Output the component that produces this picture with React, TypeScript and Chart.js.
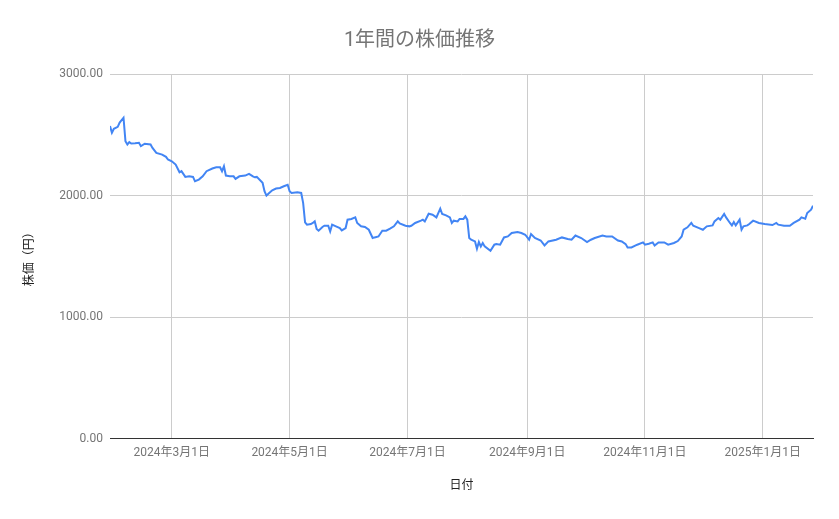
import React, { useEffect, useRef } from "react";
import { Chart, registerables } from "chart.js";

Chart.register(...registerables);

const chartTitle = "1年間の株価推移";
const xAxisTitle = "日付";
const yAxisTitle = "株価（円）";

const dates: string[] = [
  "2024-01-29", "2024-01-30", "2024-01-31", "2024-02-02", "2024-02-03", "2024-02-05", "2024-02-06", "2024-02-07",
  "2024-02-08", "2024-02-09", "2024-02-11", "2024-02-13", "2024-02-14", "2024-02-16", "2024-02-19", "2024-02-20",
  "2024-02-22", "2024-02-25", "2024-02-27", "2024-02-28", "2024-03-01", "2024-03-03", "2024-03-05", "2024-03-06",
  "2024-03-08", "2024-03-10", "2024-03-12", "2024-03-13", "2024-03-15", "2024-03-17", "2024-03-19", "2024-03-22",
  "2024-03-24", "2024-03-26", "2024-03-27", "2024-03-28", "2024-03-29", "2024-03-31", "2024-04-02", "2024-04-03",
  "2024-04-05", "2024-04-08", "2024-04-10", "2024-04-12", "2024-04-13", "2024-04-14", "2024-04-17", "2024-04-18",
  "2024-04-19", "2024-04-20", "2024-04-22", "2024-04-24", "2024-04-26", "2024-04-28", "2024-04-30", "2024-05-01",
  "2024-05-02", "2024-05-05", "2024-05-07", "2024-05-08", "2024-05-09", "2024-05-10", "2024-05-12", "2024-05-13",
  "2024-05-14", "2024-05-15", "2024-05-16", "2024-05-18", "2024-05-19", "2024-05-21", "2024-05-22", "2024-05-23",
  "2024-05-25", "2024-05-27", "2024-05-28", "2024-05-30", "2024-05-31", "2024-06-02", "2024-06-04", "2024-06-05",
  "2024-06-07", "2024-06-09", "2024-06-11", "2024-06-13", "2024-06-14", "2024-06-16", "2024-06-18", "2024-06-20",
  "2024-06-22", "2024-06-24", "2024-06-26", "2024-06-27", "2024-06-30", "2024-07-02", "2024-07-03", "2024-07-05",
  "2024-07-08", "2024-07-09", "2024-07-10", "2024-07-12", "2024-07-14", "2024-07-16", "2024-07-18", "2024-07-19",
  "2024-07-21", "2024-07-23", "2024-07-24", "2024-07-25", "2024-07-27", "2024-07-28", "2024-07-30", "2024-07-31",
  "2024-08-01", "2024-08-02", "2024-08-03", "2024-08-05", "2024-08-06", "2024-08-07", "2024-08-08", "2024-08-09",
  "2024-08-10", "2024-08-13", "2024-08-15", "2024-08-16", "2024-08-18", "2024-08-20", "2024-08-22", "2024-08-24",
  "2024-08-27", "2024-08-29", "2024-08-31", "2024-09-02", "2024-09-03", "2024-09-05", "2024-09-08", "2024-09-10",
  "2024-09-12", "2024-09-16", "2024-09-19", "2024-09-22", "2024-09-24", "2024-09-26", "2024-09-29", "2024-10-02",
  "2024-10-04", "2024-10-06", "2024-10-10", "2024-10-12", "2024-10-15", "2024-10-18", "2024-10-20", "2024-10-22",
  "2024-10-23", "2024-10-25", "2024-10-28", "2024-10-31", "2024-11-01", "2024-11-03", "2024-11-05", "2024-11-06",
  "2024-11-08", "2024-11-11", "2024-11-13", "2024-11-16", "2024-11-18", "2024-11-20", "2024-11-21", "2024-11-23",
  "2024-11-25", "2024-11-26", "2024-11-29", "2024-12-01", "2024-12-03", "2024-12-06", "2024-12-07", "2024-12-09",
  "2024-12-10", "2024-12-12", "2024-12-13", "2024-12-15", "2024-12-16", "2024-12-17", "2024-12-18", "2024-12-20",
  "2024-12-21", "2024-12-22", "2024-12-24", "2024-12-25", "2024-12-27", "2024-12-30", "2025-01-02", "2025-01-06",
  "2025-01-08", "2025-01-09", "2025-01-12", "2025-01-15", "2025-01-17", "2025-01-20", "2025-01-21", "2025-01-23",
  "2025-01-24", "2025-01-26", "2025-01-27",
];

const prices: number[] = [
  2571, 2516, 2549, 2565, 2600, 2640, 2447, 2420,
  2439, 2428, 2430, 2434, 2406, 2426, 2420, 2392,
  2351, 2337, 2318, 2296, 2282, 2255, 2191, 2200,
  2153, 2158, 2153, 2117, 2131, 2158, 2200, 2222,
  2232, 2232, 2200, 2241, 2164, 2158, 2158, 2137,
  2158, 2164, 2178, 2158, 2150, 2153, 2104, 2035,
  1999, 2015, 2043, 2057, 2062, 2076, 2088, 2035,
  2021, 2026, 2021, 1939, 1779, 1760, 1765, 1774,
  1787, 1724, 1710, 1741, 1751, 1751, 1704, 1760,
  1746, 1732, 1713, 1732, 1801, 1807, 1820, 1774,
  1746, 1741, 1718, 1650, 1655, 1663, 1710, 1710,
  1727, 1746, 1787, 1770, 1751, 1746, 1751, 1774,
  1793, 1801, 1787, 1850, 1842, 1820, 1892, 1848,
  1837, 1820, 1774, 1793, 1787, 1807, 1807, 1828,
  1801, 1650, 1636, 1622, 1562, 1617, 1581, 1609,
  1581, 1545, 1595, 1600, 1595, 1655, 1663, 1691,
  1700, 1691, 1677, 1636, 1683, 1650, 1630, 1589,
  1622, 1636, 1655, 1642, 1636, 1671, 1650, 1617,
  1636, 1650, 1671, 1663, 1663, 1630, 1622, 1600,
  1572, 1572, 1595, 1614, 1595, 1603, 1614, 1589,
  1614, 1614, 1595, 1609, 1625, 1663, 1718, 1738,
  1774, 1751, 1732, 1718, 1746, 1754, 1787, 1815,
  1801, 1848, 1820, 1774, 1754, 1782, 1754, 1801,
  1718, 1746, 1754, 1765, 1793, 1774, 1765, 1757,
  1774, 1760, 1751, 1751, 1774, 1801, 1820, 1809,
  1856, 1883, 1916,
];

const tickDates: string[] = ["2024-03-01", "2024-05-01", "2024-07-01", "2024-09-01", "2024-11-01", "2025-01-01"];
const tickLabels: string[] = ["2024年3月1日", "2024年5月1日", "2024年7月1日", "2024年9月1日", "2024年11月1日", "2025年1月1日"];
const yTicks: number[] = [0, 1000, 2000, 3000];

const toDay = (s: string) => {
  const [y, m, d] = s.split("-").map(Number);
  return Date.UTC(y, m - 1, d) / 86400000;
};

const FONT = "Roboto, 'Noto Sans CJK JP', sans-serif";

export default function App() {
  const ref = useRef<HTMLCanvasElement | null>(null);
  useEffect(() => {
    if (!ref.current) return;
    const points = dates.map((d, i) => ({ x: toDay(d), y: prices[i] }));
    const chart = new Chart(ref.current, {
      type: "line",
      data: {
        datasets: [
          {
            data: points,
            borderColor: "#4285F4",
            backgroundColor: "#4285F4",
            borderWidth: 2,
            pointRadius: 0,
            tension: 0,
            yAxisID: "y",
          },
        ],
      },
      options: {
        animation: false,
        responsive: false,
        layout: { padding: 0 },
        plugins: {
          legend: { display: false },
          tooltip: { enabled: false },
          title: {
            display: true,
            text: chartTitle,
            color: "#757575",
            font: { family: FONT, size: 20, weight: "normal" },
            padding: { top: 29, bottom: 21 },
          },
        },
        scales: {
          x: {
            type: "linear",
            min: toDay(dates[0]),
            max: toDay(dates[dates.length - 1]),
            afterBuildTicks: (scale: any) => {
              scale.ticks = tickDates.map((d) => ({ value: toDay(d) }));
            },
            afterFit: (scale: any) => {
              scale.height = 80.5;
            },
            ticks: {
              autoSkip: false,
              maxRotation: 0,
              padding: 7,
              color: "#757575",
              font: { family: FONT, size: 12 },
              callback: (_v: any, i: number) => tickLabels[i],
            },
            grid: { color: "#cccccc", lineWidth: 1, drawTicks: false },
            border: { display: true, color: "#333333", width: 1 },
            title: {
              display: true,
              text: xAxisTitle,
              color: "#222222",
              font: { family: FONT, size: 12 },
              padding: { top: 0, bottom: 26 },
            },
          },
          y: {
            min: 0,
            max: 3000,
            afterBuildTicks: (scale: any) => {
              scale.ticks = yTicks.map((v) => ({ value: v }));
            },
            afterFit: (scale: any) => {
              scale.width = 110;
            },
            ticks: {
              padding: 7,
              color: "#757575",
              font: { family: FONT, size: 12 },
              callback: (v: any) => Number(v).toFixed(2),
            },
            grid: { color: "#cccccc", lineWidth: 1, drawTicks: false },
            border: { display: false },
            title: {
              display: true,
              text: yAxisTitle,
              color: "#222222",
              font: { family: FONT, size: 12 },
              padding: { top: 23, bottom: 0 },
            },
          },
          spacer: {
            type: "linear",
            position: "right",
            display: true,
            afterFit: (scale: any) => {
              scale.width = 26;
            },
            ticks: { display: false },
            grid: { display: false, drawTicks: false },
            border: { display: false },
          },
        },
      },
    });
    return () => chart.destroy();
  }, []);
  return (
    <div style={{ position: "fixed", left: 0, top: 0, width: 839, height: 519, background: "#fff" }}>
      <canvas ref={ref} width={839} height={519} style={{ display: "block" }} />
    </div>
  );
}
